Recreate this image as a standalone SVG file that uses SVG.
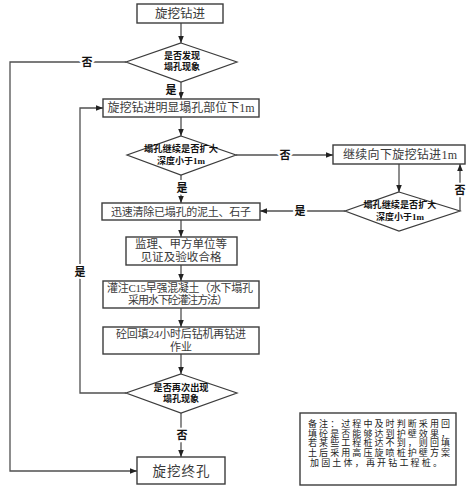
<svg xmlns="http://www.w3.org/2000/svg" width="472" height="491" viewBox="0 0 472 491">
<defs>
<marker id="ah" viewBox="0 0 8 8" refX="8" refY="4" markerWidth="7" markerHeight="7" markerUnits="userSpaceOnUse" orient="auto">
<path d="M0,0.8 L8,4 L0,7.2 Z" fill="#222"/>
</marker>
<style>
.box{fill:#fff;stroke:#3c3c3c;stroke-width:1.4}
.dia{fill:#fff;stroke:#3c3c3c;stroke-width:1.2}
.ln{fill:none;stroke:#505050;stroke-width:1.3}
.ar{fill:none;stroke:#505050;stroke-width:1.3;marker-end:url(#ah)}
.t{font-family:"Liberation Serif","Noto Sans CJK SC",serif;fill:#3a3a3a;text-anchor:middle;dominant-baseline:central}
.d{font-family:"Liberation Serif","Noto Sans CJK SC",serif;font-weight:bold;font-size:9px;fill:#111;text-anchor:middle;dominant-baseline:central}
.lb{font-family:"Liberation Serif","Noto Sans CJK SC",serif;font-weight:bold;font-size:11px;fill:#111;text-anchor:middle;dominant-baseline:central;stroke:#fff;stroke-width:4;paint-order:stroke}
.n{font-family:"Liberation Serif","Noto Sans CJK SC",serif;font-size:9px;fill:#222;dominant-baseline:central}
</style>
</defs>
<rect width="472" height="491" fill="#fff"/>

<g id="connectors">
<path class="ar" d="M181,23 V43"/>
<path class="ar" d="M181,82 V99"/>
<path class="ar" d="M181,117 V136"/>
<path class="ar" d="M181,175 V203"/>
<path class="ar" d="M181,220 V237"/>
<path class="ar" d="M181,265 V281"/>
<path class="ar" d="M181,308 V327"/>
<path class="ar" d="M181,354 V374"/>
<path class="ar" d="M181,413 V457"/>
<path class="ar" d="M126,62 H10 V471 H137"/>
<path class="ar" d="M126,393 H80 V108 H103"/>
<path class="ar" d="M236,155 H333"/>
<path class="ar" d="M399,164 V192"/>
<path class="ar" d="M460,211 V164"/>
<path class="ar" d="M345,211 H260"/>
<text class="lb" x="87" y="62">否</text>
<text class="lb" x="171" y="90">是</text>
<text class="lb" x="285" y="155">否</text>
<text class="lb" x="182" y="188">是</text>
<text class="lb" x="460" y="190">否</text>
<text class="lb" x="300" y="211">是</text>
<text class="lb" x="80" y="272">是</text>
<text class="lb" x="182" y="435">否</text>
</g>

<g id="n1">
<rect class="box" x="137" y="4" width="86" height="19"/>
<text class="t" x="180" y="14" font-size="12.5" textLength="50" lengthAdjust="spacing">旋挖钻进</text>
</g>
<g id="n2">
<path class="dia" d="M181,43 L237,62 L181,82 L126,62 Z"/>
<text class="d" x="182" y="56">是否发现</text>
<text class="d" x="182" y="67">塌孔现象</text>
</g>
<g id="n3">
<rect class="box" x="103" y="99" width="156" height="18"/>
<text class="t" x="181" y="108" font-size="12" textLength="147" lengthAdjust="spacing">旋挖钻进明显塌孔部位下1m</text>
</g>
<g id="n4">
<path class="dia" d="M181,136 L236,155 L181,175 L127,155 Z"/>
<text class="d" x="181" y="149" textLength="74" lengthAdjust="spacingAndGlyphs">塌孔继续是否扩大</text>
<text class="d" x="181" y="161">深度小于1m</text>
</g>
<g id="n5">
<rect class="box" x="333" y="145" width="132" height="19"/>
<text class="t" x="400" y="155" font-size="12" textLength="114" lengthAdjust="spacing">继续向下旋挖钻进1m</text>
</g>
<g id="n6">
<path class="dia" d="M399,192 L460,211 L399,231 L345,211 Z"/>
<text class="d" x="400" y="205" textLength="73" lengthAdjust="spacingAndGlyphs">塌孔继续是否扩大</text>
<text class="d" x="400" y="217">深度小于1m</text>
</g>
<g id="n7">
<rect class="box" x="102" y="203" width="158" height="17"/>
<text class="t" x="181" y="212" font-size="11" textLength="140" lengthAdjust="spacing">迅速清除已塌孔的泥土、石子</text>
</g>
<g id="n8">
<rect class="box" x="126" y="237" width="111" height="28"/>
<text class="t" x="181" y="244" font-size="11.5" textLength="92" lengthAdjust="spacing">监理、甲方单位等</text>
<text class="t" x="181" y="257" font-size="11.5" textLength="81" lengthAdjust="spacing">见证及验收合格</text>
</g>
<g id="n9">
<rect class="box" x="103" y="281" width="156" height="27"/>
<text class="t" x="180" y="288" font-size="11" textLength="146" lengthAdjust="spacing">灌注C15早强混凝土（水下塌孔</text>
<text class="t" x="178" y="300" font-size="11" textLength="100" lengthAdjust="spacing">采用水下砼灌注方法）</text>
</g>
<g id="n10">
<rect class="box" x="103" y="327" width="156" height="27"/>
<text class="t" x="181" y="334" font-size="11" textLength="130" lengthAdjust="spacing">砼回填24小时后钻机再钻进</text>
<text class="t" x="181" y="347" font-size="11">作业</text>
</g>
<g id="n11">
<path class="dia" d="M181,374 L237,393 L181,413 L126,393 Z"/>
<text class="d" x="181" y="388" textLength="55" lengthAdjust="spacingAndGlyphs">是否再次出现</text>
<text class="d" x="181" y="399">塌孔现象</text>
</g>
<g id="n12">
<rect class="box" x="137" y="457" width="88" height="27"/>
<text class="t" x="181" y="471" font-size="13.5" textLength="57" lengthAdjust="spacing">旋挖终孔</text>
</g>
<g id="note">
<rect class="box" x="300" y="413" width="156" height="72"/>
<text class="n" x="308" y="423.5" textLength="142" lengthAdjust="spacing">备注：过程中及时判断采用回</text>
<text class="n" x="308" y="433.5" textLength="142" lengthAdjust="spacing">填砼是否能够达到护壁效果，</text>
<text class="n" x="308" y="443" textLength="142" lengthAdjust="spacing">若某些工程桩达不到，则回填</text>
<text class="n" x="308" y="452.5" textLength="142" lengthAdjust="spacing">土后采用高压旋喷桩护壁方案</text>
<text class="n" x="310" y="462.5" textLength="132" lengthAdjust="spacing">加固土体，再开钻工程桩。</text>
</g>
</svg>
